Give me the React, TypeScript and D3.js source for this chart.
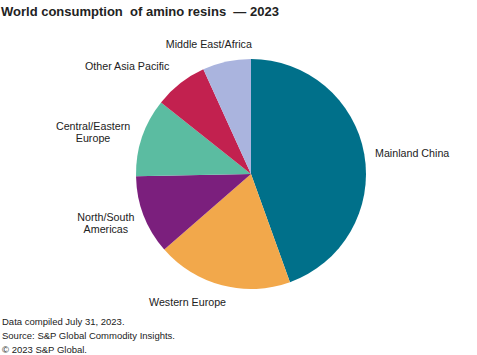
import React, { useEffect, useRef } from 'react';
import * as d3 from 'd3';

const regions = ['Mainland China', 'Western Europe', 'North/South Americas', 'Central/Eastern Europe', 'Other Asia Pacific', 'Middle East/Africa'];
const shares = [44.5, 19.1, 11.1, 11.0, 7.5, 6.8];
const colors = ['#00708a', '#f2a84b', '#7b1f7d', '#5bbca1', '#c2214f', '#aab4de'];
const labelLines = [['Mainland China'], ['Western Europe'], ['North/South', 'Americas'], ['Central/Eastern', 'Europe'], ['Other Asia Pacific'], ['Middle East/Africa']];
const footnotes = ['Data compiled July 31, 2023.', 'Source: S&P Global Commodity Insights.', '\u00a9 2023 S&P Global.'];

function App() {
  const ref = useRef<SVGSVGElement>(null);

  useEffect(() => {
    const width = 477, height = 355;
    const cx = 251, cy = 174, r = 115;
    const svg = d3.select(ref.current);
    svg.selectAll('*').remove();
    svg.attr('viewBox', `0 0 ${width} ${height}`);

    svg.append('rect').attr('width', width).attr('height', height).attr('fill', '#fff');

    svg.append('text')
      .attr('x', 1)
      .attr('y', 16)
      .attr('font-family', 'Liberation Sans, Arial, sans-serif')
      .attr('font-weight', 'bold')
      .attr('font-size', 13)
      .attr('fill', '#222')
      .style('white-space', 'pre')
      .text('World consumption  of amino resins  \u2014 2023');

    const data = regions.map((name, i) => ({ name, value: shares[i], color: colors[i], lines: labelLines[i] }));

    const pie = d3.pie<any>().sort(null).value(d => d.value).startAngle(0).endAngle(2 * Math.PI);
    const arc = d3.arc<any>().innerRadius(0).outerRadius(r);
    const arcs = pie(data);

    const g = svg.append('g').attr('transform', `translate(${cx},${cy})`);
    g.selectAll('path')
      .data(arcs)
      .join('path')
      .attr('d', arc)
      .attr('fill', d => d.data.color);

    // labels sit outside the slices, nudged per region
    const labelArc = d3.arc<any>().innerRadius(r + 18).outerRadius(r + 18);
    const offsets: Record<string, [number, number]> = {
      'Mainland China': [-7, 2],
      'Western Europe': [-30, -1],
      'North/South Americas': [-21, 1],
      'Central/Eastern Europe': [-32, 1],
      'Other Asia Pacific': [-42, -3],
      'Middle East/Africa': [-14, 0],
    };

    const labels = g.append('g')
      .attr('font-family', 'Liberation Sans, Arial, sans-serif')
      .attr('font-size', 10.7)
      .attr('fill', '#222');

    arcs.forEach(d => {
      const [x, y] = labelArc.centroid(d);
      const mid = (d.startAngle + d.endAngle) / 2;
      const [ox, oy] = offsets[d.data.name];
      const anchor = Math.sin(mid) > 0.6 ? 'start' : 'middle';
      const lines: string[] = d.data.lines;
      const t = labels.append('text')
        .attr('text-anchor', anchor)
        .attr('transform', `translate(${x + ox},${y + oy - (lines.length - 1) * 6 + 4})`);
      lines.forEach((ln, j) => {
        t.append('tspan').attr('x', 0).attr('dy', j === 0 ? 0 : 12).text(ln);
      });
    });

    const foot = svg.append('g')
      .attr('font-family', 'Liberation Sans, Arial, sans-serif')
      .attr('font-size', 9.5)
      .attr('fill', '#222');
    footnotes.forEach((f, i) => {
      foot.append('text').attr('x', 2).attr('y', 325 + i * 14).text(f);
    });
  }, []);

  return (
    <svg ref={ref} width={477} height={355} style={{ position: 'absolute', left: 0, top: 0 }}></svg>
  );
}

export default App;
